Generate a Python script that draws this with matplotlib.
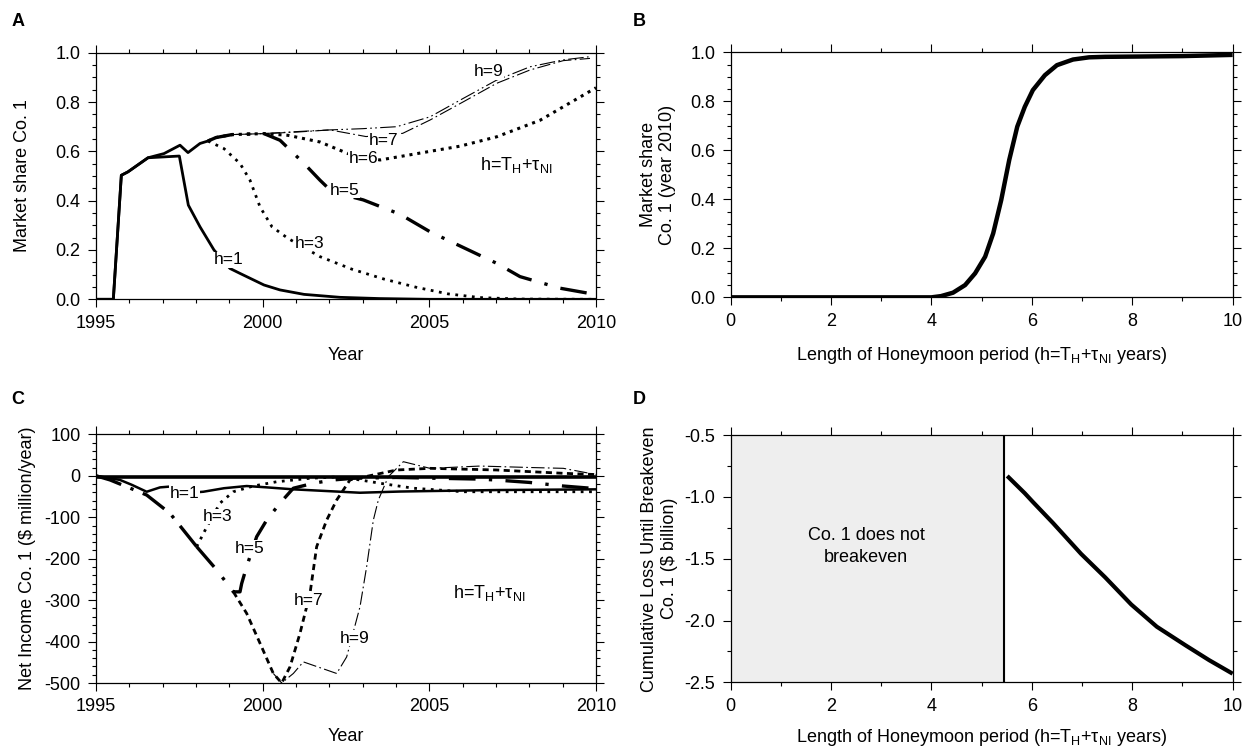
import matplotlib
matplotlib.use("Agg")
import matplotlib.pyplot as plt
from matplotlib.ticker import MultipleLocator, FormatStrFormatter

plt.rcParams["font.family"] = ["Liberation Sans", "DejaVu Sans"]
plt.rcParams["mathtext.fontset"] = "custom"
plt.rcParams["mathtext.rm"] = "Liberation Sans"
plt.rcParams["mathtext.default"] = "regular"
plt.rcParams["axes.unicode_minus"] = False

# ---- panel A: market share of Co. 1 over time ----
a_h1_year = [1995.0, 1995.52, 1995.76, 1995.96, 1996.56, 1997.5, 1997.77, 1998.12, 1998.54,
             1999.02, 1999.32, 2000.04, 2000.52, 2001.24, 2002.32, 2003.5, 2005.0, 2010.0]
a_h1_share = [0.0, 0.0, 0.503, 0.517, 0.574, 0.581, 0.382, 0.294, 0.2,
              0.125, 0.105, 0.058, 0.038, 0.02, 0.008, 0.003, 0.0, 0.0]

a_common_year = [1995.0, 1995.52, 1995.76, 1995.96, 1996.56, 1997.04, 1997.52, 1997.76,
                 1998.12, 1998.36]
a_common_share = [0.0, 0.0, 0.503, 0.517, 0.574, 0.591, 0.625, 0.595, 0.632, 0.642]

a_h3_year = [1998.36, 1998.84, 1999.32, 1999.62, 1999.92, 2000.28, 2000.76, 2001.72,
             2002.68, 2003.64, 2004.6, 2005.56, 2006.52, 2007.7, 2010.0]
a_h3_share = [0.642, 0.611, 0.551, 0.483, 0.375, 0.294, 0.247, 0.173,
              0.122, 0.082, 0.049, 0.022, 0.007, 0.001, 0.0]

a_h5_year = [1998.36, 1998.6, 1999.08, 2000.04, 2000.52, 2001.24, 2001.72, 2002.08, 2003.02,
             2004.12, 2005.02, 2006.02, 2007.02, 2007.72, 2008.92, 2009.88]
a_h5_share = [0.642, 0.656, 0.668, 0.672, 0.645, 0.551, 0.483, 0.436, 0.403,
              0.345, 0.274, 0.21, 0.146, 0.092, 0.045, 0.022]

a_h6_year = [1998.36, 1998.6, 1999.08, 2000.04, 2000.76, 2001.72, 2002.56, 2003.52, 2004.72,
             2005.92, 2007.02, 2008.32, 2009.02, 2010.0]
a_h6_share = [0.642, 0.656, 0.668, 0.672, 0.665, 0.638, 0.591, 0.565, 0.593,
              0.621, 0.659, 0.726, 0.781, 0.858]

a_h7_year = [1998.36, 1998.6, 1999.08, 2000.04, 2001.0, 2002.02, 2003.1, 2004.2, 2005.02,
             2006.02, 2007.02, 2008.02, 2009.02, 2009.82]
a_h7_share = [0.642, 0.656, 0.668, 0.672, 0.678, 0.687, 0.66, 0.673, 0.727,
              0.801, 0.876, 0.93, 0.968, 0.977]

a_h9_year = [1998.36, 1998.6, 1999.08, 2000.04, 2001.0, 2002.02, 2003.0, 2004.02, 2005.02,
             2006.02, 2007.02, 2008.02, 2009.02, 2009.82]
a_h9_share = [0.642, 0.656, 0.668, 0.672, 0.68, 0.687, 0.692, 0.70, 0.74,
              0.815, 0.889, 0.943, 0.971, 0.984]

# ---- panel B: market share in 2010 vs honeymoon length ----
b_h = [0.0, 1.0, 2.0, 3.0, 4.0, 4.19, 4.43, 4.67, 4.87, 5.07, 5.23, 5.39, 5.55, 5.71,
       5.86, 6.02, 6.26, 6.5, 6.82, 7.14, 7.46, 8.0, 9.0, 10.0]
b_share = [0.0, 0.0, 0.0, 0.0, 0.0, 0.005, 0.019, 0.05, 0.098, 0.166, 0.261, 0.397, 0.561, 0.697,
           0.778, 0.846, 0.907, 0.948, 0.971, 0.98, 0.982, 0.983, 0.985, 0.99]

# ---- panel C: net income of Co. 1 ----
c_h1_year = [1995.0, 1995.72, 1996.08, 1996.52, 1996.92, 1997.22, 1997.62, 1998.22, 1998.84,
             1999.52, 2000.12, 2000.92, 2001.92, 2002.92, 2004.12, 2005.02, 2007.02, 2010.0]
c_h1_income = [0.0, -10.0, -22.0, -38.5, -28.0, -26.0, -42.0, -38.5, -30.0,
               -24.7, -27.9, -32.7, -36.8, -40.9, -38.0, -36.8, -34.4, -32.7]

c_common_year = [1995.0, 1995.42, 1995.92, 1996.52, 1997.22, 1998.02]
c_common_income = [0.0, -10.0, -26.4, -46.4, -90.6, -171.0]

c_h3_year = [1998.02, 1998.32, 1998.72, 1999.12, 1999.72, 2000.42, 2001.42, 2002.2,
             2002.92, 2003.52, 2004.52, 2006.02, 2010.0]
c_h3_income = [-171.0, -124.0, -66.0, -38.5, -24.7, -14.4, -6.0, -3.0,
               -10.0, -18.0, -30.0, -38.5, -38.5]

c_h5_year = [1998.02, 1998.62, 1999.12, 1999.32, 1999.37, 1999.52, 1999.82, 2000.12, 2000.52,
             2000.92, 2001.52, 2002.12, 2002.72, 2004.0, 2006.52, 2007.02, 2008.0, 2009.02, 2010.0]
c_h5_income = [-171.0, -227.0, -280.0, -280.0, -260.0, -219.0, -147.0, -107.0, -66.0,
               -30.0, -18.0, -10.0, -6.0, -4.0, -8.0, -10.3, -16.0, -24.7, -31.0]

c_h7_year = [1999.12, 1999.52, 1999.92, 2000.32, 2000.57, 2000.82, 2001.12,
             2001.42, 2001.62, 2001.92, 2002.22, 2002.62, 2004.02, 2005.02, 2007.02, 2009.02, 2010.0]
c_h7_income = [-280.0, -332.0, -404.0, -477.0, -500.0, -461.0, -380.0,
               -284.0, -171.0, -107.0, -58.5, -10.0, 14.0, 18.0, 14.0, 6.0, 3.0]

c_h9_year = [2000.32, 2000.57, 2000.92, 2001.22, 2002.22, 2002.52, 2002.92, 2003.12,
             2003.32, 2003.47, 2003.77, 2004.22, 2005.02, 2006.52, 2008.02, 2009.02, 2010.0]
c_h9_income = [-477.0, -500.0, -477.0, -449.0, -477.0, -437.0, -316.0, -219.0,
               -107.0, -58.5, -2.0, 34.0, 18.0, 23.5, 20.0, 18.0, 3.0]

# ---- panel D: cumulative loss until breakeven ----
d_breakeven_h = 5.45
d_h = [5.51, 5.86, 6.02, 6.42, 6.98, 7.46, 7.98, 8.49, 9.06, 9.53, 10.0]
d_loss = [-0.83, -0.97, -1.04, -1.21, -1.46, -1.65, -1.87, -2.05, -2.2, -2.32, -2.43]

FORMULA = r"h=T$_{H}$+τ$_{NI}$"
HM_LABEL = r"Length of Honeymoon period (h=T$_{H}$+τ$_{NI}$ years)"
LABEL_BOX = dict(facecolor="white", edgecolor="none", pad=0.3)
FS = 13


def style_axes(ax, xmaj, xmin, ymaj, ymin):
    ax.xaxis.set_major_locator(MultipleLocator(xmaj))
    ax.xaxis.set_minor_locator(MultipleLocator(xmin))
    ax.yaxis.set_major_locator(MultipleLocator(ymaj))
    ax.yaxis.set_minor_locator(MultipleLocator(ymin))
    ax.tick_params(which="both", direction="out", top=True, right=True,
                   labelsize=FS, width=0.8, pad=5)
    ax.tick_params(which="major", length=6)
    ax.tick_params(which="minor", length=3)
    for sp in ax.spines.values():
        sp.set_linewidth(0.9)


def label(ax, x, y, s):
    ax.text(x, y, s, fontsize=12.5, ha="center", va="center", bbox=LABEL_BOX, zorder=5)


fig = plt.figure(figsize=(12.5, 7.49), dpi=100)

# A
ax = fig.add_axes([0.0768, 0.6004, 0.4, 0.3292])
ax.plot(a_common_year, a_common_share, color="black", lw=2.0)
ax.plot(a_h9_year, a_h9_share, color="black", lw=0.8, ls=(0, (14, 3, 1.5, 3, 1.5, 3)))
ax.plot(a_h7_year, a_h7_share, color="black", lw=0.8, ls=(0, (12, 3, 1.5, 3)))
ax.plot(a_h6_year, a_h6_share, color="black", lw=2.2, ls=(0, (1, 1.6)))
ax.plot(a_h5_year, a_h5_share, color="black", lw=2.4, ls=(0, (8, 4, 1, 4)))
ax.plot(a_h3_year, a_h3_share, color="black", lw=2.0, ls=(0, (1, 2)))
ax.plot(a_h1_year, a_h1_share, color="black", lw=2.0)
label(ax, 1998.97, 0.16, "h=1")
label(ax, 2001.42, 0.227, "h=3")
label(ax, 2002.47, 0.443, "h=5")
label(ax, 2003.02, 0.572, "h=6")
label(ax, 2003.62, 0.646, "h=7")
label(ax, 2006.77, 0.923, "h=9")
ax.text(2007.6, 0.545, FORMULA, fontsize=FS, ha="center", va="center")
ax.set_xlim(1995, 2010)
ax.set_ylim(0, 1)
style_axes(ax, 5, 1, 0.2, 0.05)
ax.yaxis.set_major_formatter(FormatStrFormatter("%.1f"))
ax.set_xlabel("Year", fontsize=FS, labelpad=11)
ax.set_ylabel("Market share Co. 1", fontsize=FS, labelpad=18)
fig.text(0.009, 0.971, "A", fontsize=FS, fontweight="bold", ha="left", va="center")

# B
ax = fig.add_axes([0.5845, 0.603, 0.4016, 0.327])
ax.plot(b_h, b_share, color="black", lw=3.2, solid_capstyle="butt")
ax.set_xlim(0, 10)
ax.set_ylim(0, 1)
style_axes(ax, 2, 1, 0.2, 0.05)
ax.yaxis.set_major_formatter(FormatStrFormatter("%.1f"))
ax.set_xlabel(HM_LABEL, fontsize=FS, labelpad=11)
ax.set_ylabel("Market share\nCo. 1 (year 2010)", fontsize=FS, labelpad=10)
fig.text(0.506, 0.971, "B", fontsize=FS, fontweight="bold", ha="left", va="center")

# C
ax = fig.add_axes([0.0768, 0.0881, 0.4, 0.332])
ax.axhline(-2, color="black", lw=2.6, zorder=1)
ax.plot(c_common_year, c_common_income, color="black", lw=2.4, ls=(0, (8, 3, 1, 3)))
ax.plot(c_h9_year, c_h9_income, color="black", lw=0.8, ls=(0, (12, 3, 1.5, 3)))
ax.plot(c_h7_year, c_h7_income, color="black", lw=2.0, ls=(0, (2.2, 1.6)))
ax.plot(c_h5_year, c_h5_income, color="black", lw=2.4, ls=(0, (8, 4, 1, 4)))
ax.plot(c_h3_year, c_h3_income, color="black", lw=2.0, ls=(0, (1, 2)))
ax.plot(c_h1_year, c_h1_income, color="black", lw=1.8)
label(ax, 1997.65, -42, "h=1")
label(ax, 1998.64, -98, "h=3")
label(ax, 1999.62, -175, "h=5")
label(ax, 2001.37, -300, "h=7")
label(ax, 2002.77, -392, "h=9")
ax.text(2006.8, -284, FORMULA, fontsize=FS, ha="center", va="center")
ax.set_xlim(1995, 2010)
ax.set_ylim(-500, 100)
style_axes(ax, 5, 1, 100, 20)
ax.set_xlabel("Year", fontsize=FS, labelpad=9)
ax.set_ylabel(r"Net Income Co. 1 (\$ million/year)", fontsize=FS, labelpad=6)
fig.text(0.009, 0.466, "C", fontsize=FS, fontweight="bold", ha="left", va="center")

# D
ax = fig.add_axes([0.5845, 0.089, 0.4016, 0.330])
ax.axvspan(0, d_breakeven_h, color="#eeeeee", zorder=0)
ax.axvline(d_breakeven_h, color="black", lw=1.5)
ax.plot(d_h, d_loss, color="black", lw=3.0, solid_capstyle="butt")
ax.text(2.7, -1.40, "Co. 1 does not\nbreakeven", fontsize=FS, ha="center", va="center",
        linespacing=1.35)
ax.set_xlim(0, 10)
ax.set_ylim(-2.5, -0.5)
style_axes(ax, 2, 1, 0.5, 0.25)
ax.yaxis.set_major_formatter(FormatStrFormatter("%.1f"))
ax.set_xlabel(HM_LABEL, fontsize=FS, labelpad=9)
ax.set_ylabel("Cumulative Loss Until Breakeven\nCo. 1 (\\$ billion)", fontsize=FS, labelpad=5)
fig.text(0.506, 0.466, "D", fontsize=FS, fontweight="bold", ha="left", va="center")

fig.savefig("out.png", dpi=100)
